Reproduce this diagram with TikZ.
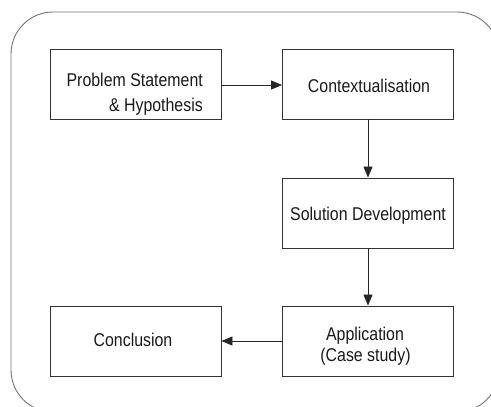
\documentclass[tikz,border=0pt]{standalone}
\usepackage{fontspec}
\setmainfont[FakeStretch=0.86]{Liberation Sans}
\usetikzlibrary{arrows.meta}
\begin{document}
\begin{tikzpicture}[x=1pt,y=-1pt,
  stagebox/.style={draw=black!80,line width=0.85pt,minimum width=171pt,minimum height=70pt,inner sep=0pt},
  caption/.style={inner sep=0pt,text=black!90,font=\fontsize{18.5}{22}\selectfont},
  flow/.style={draw=black!85,line width=0.8pt,-{Triangle[length=11pt,width=9pt]}}]
\useasboundingbox (0,0) rectangle (491,407);
\clip (0,0) rectangle (491,407);
% outer frame
\draw[black!55,line width=0.9pt,rounded corners=42pt] (11,12) rectangle (499,412);
% stage boxes
\node[stagebox] (prob) at (135.5,84) {};
\node[stagebox] (ctx)  at (368,84)   {};
\node[stagebox] (sol)  at (368,213)  {};
\node[stagebox] (app)  at (368,341)  {};
\node[stagebox] (conc) at (135.5,341) {};
% stage captions
\node[caption,anchor=base east] (prob1) at (203,86.7)  {Problem Statement};
\node[caption,anchor=base east] (prob2) at (203,111.5) {\& Hypothesis};
\node[caption,anchor=base] (ctxt)  at (369,92.3)  {Contextualisation};
\node[caption,anchor=base] (solt)  at (368,220)   {Solution Development};
\node[caption,anchor=base] (app1)  at (365,340.7) {Application};
\node[caption,anchor=base] (app2)  at (365.5,361.7) {(Case study)};
\node[caption,anchor=base] (conct) at (133,346)   {Conclusion};
% connectors
\draw[flow] (prob.east |- 0,85) -- (ctx.west |- 0,85);
\draw[flow] (ctx) -- (sol);
\draw[flow] (sol) -- (app);
\draw[flow] (app) -- (conc);
\end{tikzpicture}
\end{document}
